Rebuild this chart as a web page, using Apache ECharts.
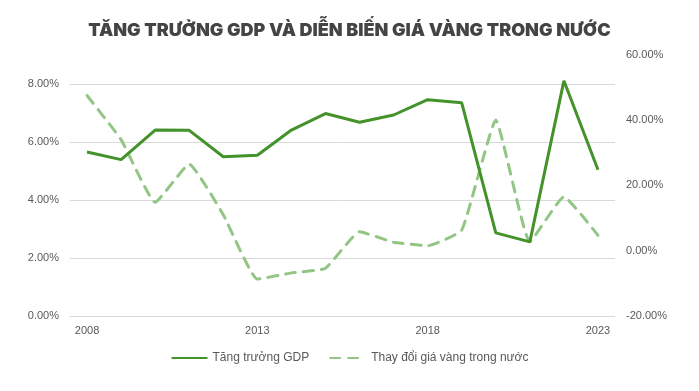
<!DOCTYPE html>
<html>
<head>
<meta charset="utf-8">
<script src="https://cdn.jsdelivr.net/npm/echarts@6/dist/echarts.min.js"></script>
<style>
html,body{margin:0;padding:0;background:#fff;}
#chart{width:699px;height:391px;}
</style>
</head>
<body>
<div id="chart"></div>
<script>
var years = ['2008','2009','2010','2011','2012','2013','2014','2015','2016','2017','2018','2019','2020','2021','2022','2023'];
var gdpGrowth = [5.66, 5.40, 6.42, 6.41, 5.50, 5.55, 6.42, 6.99, 6.69, 6.94, 7.47, 7.36, 2.87, 2.56, 8.12, 5.05];
var goldChange = [47.5, 34.0, 14.8, 26.5, 11.0, -8.7, -6.8, -5.4, 5.8, 2.6, 1.5, 6.3, 40.0, 2.7, 16.5, 4.7];
var leftTicks = [0, 2, 4, 6, 8];
var rightTicks = [-20, 0, 20, 40, 60];

var chart = echarts.init(document.getElementById('chart'));
var labelColor = '#595959';
var font = '"Liberation Sans", Arial, sans-serif';
chart.setOption({
  animation: false,
  title: {
    text: 'TĂNG TRƯỞNG GDP VÀ DIỄN BIẾN GIÁ VÀNG TRONG NƯỚC',
    left: 'center',
    top: 17,
    textStyle: {fontFamily: 'Inter, Roboto, sans-serif', fontWeight: 900, fontSize: 18, color: '#444444'}
  },
  legend: {
    bottom: 22,
    left: 'center',
    itemWidth: 36,
    itemHeight: 10,
    itemGap: 20,
    itemStyle: {opacity: 0},
    textStyle: {fontFamily: font, fontSize: 12, color: labelColor},
    data: ['Tăng trưởng GDP', 'Thay đổi giá vàng trong nước']
  },
  grid: {left: 70, right: 84, top: 54.7, bottom: 75, containLabel: false},
  xAxis: {
    type: 'category',
    data: years,
    boundaryGap: true,
    axisLine: {show: false},
    axisTick: {show: false},
    axisLabel: {interval: 4, color: labelColor, fontFamily: font, fontSize: 11, margin: 9}
  },
  yAxis: [
    {
      type: 'value',
      min: leftTicks[0],
      max: leftTicks[leftTicks.length - 1] * (316 - 54.7) / (316 - 84.3),
      interval: 2,
      axisLine: {show: false},
      axisTick: {show: false},
      splitLine: {show: true, showMaxLine: false, lineStyle: {color: '#d9d9d9', width: 1}},
      axisLabel: {showMaxLabel: false, color: labelColor, fontFamily: font, fontSize: 11, margin: 11,
        formatter: function (v) { return v.toFixed(2) + '%'; }}
    },
    {
      type: 'value',
      min: rightTicks[0],
      max: rightTicks[rightTicks.length - 1],
      interval: 20,
      axisLine: {show: false},
      axisTick: {show: false},
      splitLine: {show: false},
      axisLabel: {color: labelColor, fontFamily: font, fontSize: 11, margin: 11,
        formatter: function (v) { return v.toFixed(2) + '%'; }}
    }
  ],
  series: [
    {
      name: 'Tăng trưởng GDP',
      type: 'line',
      yAxisIndex: 0,
      data: gdpGrowth,
      symbol: 'none',
      lineStyle: {color: '#43922a', width: 3},
      itemStyle: {color: '#43922a'},
      z: 3
    },
    {
      name: 'Thay đổi giá vàng trong nước',
      type: 'line',
      yAxisIndex: 1,
      data: goldChange,
      symbol: 'none',
      smooth: 0.12,
      lineStyle: {color: '#93c585', width: 3, type: [10, 8], cap: 'round'},
      itemStyle: {color: '#93c585'},
      z: 2
    }
  ]
});
</script>
</body>
</html>
